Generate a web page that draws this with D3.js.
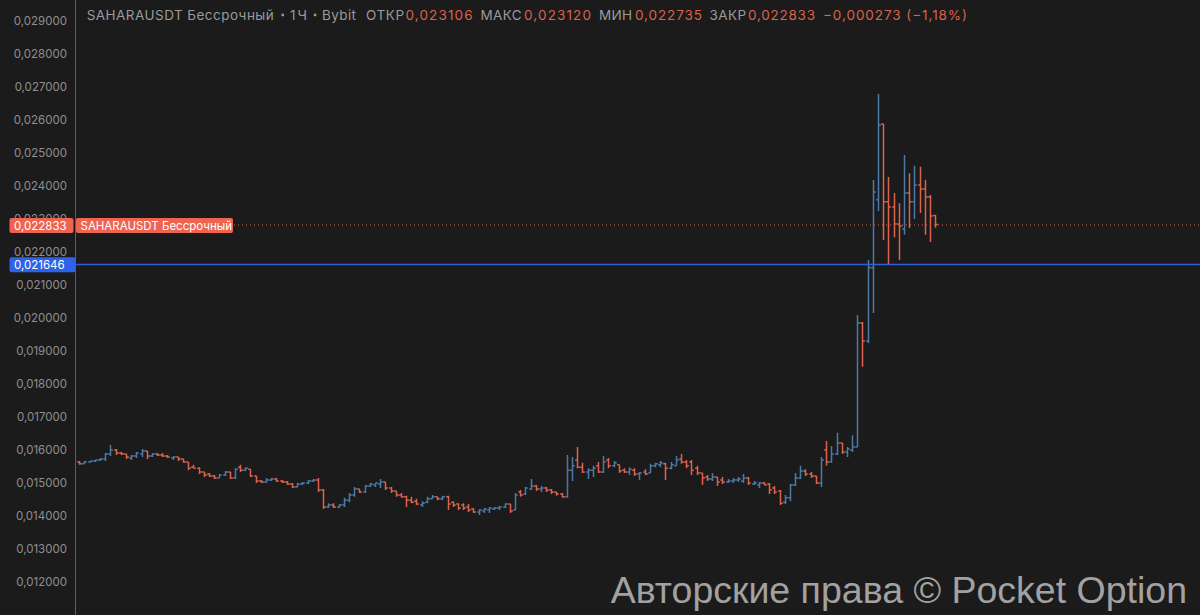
<!DOCTYPE html>
<html><head><meta charset="utf-8">
<script src="https://cdn.jsdelivr.net/npm/d3@7"></script>
<style>html,body{margin:0;padding:0;background:#1b1b1b;overflow:hidden}</style>
</head><body><svg id="c" width="1200" height="615"></svg>
<script>
// ---- data (hourly OHLC bars, SAHARAUSDT perpetual, Bybit) ----
const opens=[.01564,.01558,.01564,.01567,.01570,.01573,.01588,.01600,.01591,.01588,.01576,.01582,.01588,.01597,.01582,.01588,.01585,.01582,.01576,.01579,.01573,.01564,.01548,.01545,.01533,.01527,.01521,.01515,.01524,.01533,.01515,.01548,.01539,.01542,.01521,.01506,.01503,.01509,.01512,.01506,.01503,.01497,.01488,.01497,.01500,.01506,.01509,.01479,.01427,.01433,.01427,.01433,.01448,.01464,.01482,.01473,.01491,.01494,.01497,.01503,.01485,.01476,.01464,.01458,.01448,.01445,.01433,.01442,.01452,.01458,.01452,.01458,.01442,.01436,.01433,.01427,.01421,.01412,.01415,.01418,.01421,.01424,.01427,.01436,.01418,.01473,.01467,.01482,.01491,.01482,.01485,.01479,.01473,.01467,.01458,.01539,.01570,.01548,.01533,.01539,.01552,.01533,.01570,.01552,.01555,.01539,.01533,.01539,.01527,.01533,.01530,.01552,.01555,.01558,.01545,.01552,.01573,.01564,.01564,.01545,.01530,.01518,.01512,.01518,.01509,.01503,.01506,.01509,.01506,.01515,.01497,.01494,.01500,.01497,.01485,.01476,.01442,.01455,.01494,.01515,.01536,.01527,.01521,.01500,.01600,.01564,.01588,.01621,.01594,.01600,.01609,.01985,.01930,.02152,.02358,.02588,.02352,.02336,.02285,.02270,.02379,.02352,.02403,.02391,.02367,.023106];
const highs=[.01567,.01567,.01567,.01570,.01576,.01591,.01615,.01603,.01594,.01588,.01585,.01594,.01603,.01597,.01591,.01591,.01591,.01585,.01582,.01579,.01573,.01564,.01555,.01548,.01533,.01530,.01524,.01527,.01536,.01533,.01545,.01555,.01548,.01542,.01521,.01509,.01515,.01515,.01515,.01509,.01506,.01500,.01500,.01503,.01509,.01512,.01515,.01482,.01439,.01439,.01436,.01455,.01470,.01488,.01482,.01494,.01500,.01500,.01512,.01503,.01488,.01476,.01470,.01461,.01458,.01452,.01445,.01458,.01464,.01458,.01461,.01461,.01445,.01439,.01439,.01436,.01424,.01421,.01424,.01427,.01427,.01430,.01439,.01436,.01470,.01479,.01488,.01512,.01494,.01491,.01488,.01482,.01473,.01470,.01585,.01579,.01609,.01561,.01545,.01552,.01564,.01582,.01576,.01567,.01555,.01545,.01548,.01545,.01533,.01542,.01558,.01561,.01567,.01561,.01564,.01582,.01588,.01570,.01570,.01552,.01530,.01524,.01530,.01518,.01518,.01512,.01515,.01518,.01527,.01518,.01506,.01503,.01503,.01500,.01491,.01479,.01464,.01497,.01530,.01552,.01542,.01533,.01521,.01579,.01627,.01612,.01652,.01621,.01609,.01645,.02009,.01988,.02176,.02418,.02679,.02588,.02427,.02379,.02348,.02494,.02439,.02461,.02458,.02418,.02373,.023120];
const lows=[.01555,.01558,.01561,.01564,.01567,.01567,.01582,.01585,.01585,.01573,.01570,.01576,.01579,.01573,.01579,.01582,.01579,.01576,.01570,.01567,.01561,.01539,.01545,.01527,.01518,.01518,.01512,.01515,.01521,.01512,.01512,.01533,.01536,.01518,.01500,.01500,.01500,.01506,.01503,.01500,.01494,.01485,.01488,.01494,.01497,.01503,.01473,.01421,.01424,.01424,.01424,.01427,.01442,.01458,.01470,.01470,.01488,.01488,.01485,.01479,.01470,.01458,.01455,.01427,.01439,.01433,.01427,.01439,.01452,.01448,.01448,.01418,.01427,.01418,.01418,.01412,.01409,.01403,.01409,.01409,.01418,.01418,.01424,.01409,.01418,.01458,.01464,.01479,.01476,.01473,.01473,.01467,.01461,.01455,.01455,.01506,.01545,.01530,.01512,.01518,.01530,.01530,.01545,.01548,.01530,.01530,.01524,.01521,.01509,.01524,.01530,.01548,.01548,.01509,.01542,.01552,.01558,.01545,.01524,.01524,.01494,.01506,.01506,.01491,.01497,.01500,.01500,.01503,.01500,.01494,.01494,.01485,.01494,.01467,.01467,.01433,.01436,.01445,.01491,.01512,.01521,.01515,.01497,.01488,.01552,.01561,.01585,.01588,.01579,.01594,.01609,.01852,.01924,.02015,.02324,.02236,.02161,.02245,.02176,.02252,.02273,.02300,.02318,.02252,.02230,.022735];
const closes=[.01558,.01564,.01567,.01570,.01573,.01588,.01600,.01591,.01588,.01579,.01582,.01591,.01597,.01582,.01588,.01585,.01582,.01579,.01579,.01573,.01564,.01545,.01545,.01533,.01524,.01521,.01515,.01524,.01533,.01515,.01542,.01539,.01545,.01521,.01506,.01503,.01509,.01512,.01506,.01503,.01497,.01488,.01497,.01500,.01506,.01509,.01479,.01427,.01433,.01427,.01433,.01448,.01464,.01482,.01473,.01491,.01497,.01500,.01503,.01485,.01476,.01464,.01458,.01448,.01442,.01436,.01439,.01452,.01458,.01452,.01458,.01436,.01433,.01424,.01424,.01418,.01412,.01418,.01421,.01424,.01424,.01427,.01436,.01415,.01464,.01464,.01485,.01491,.01482,.01485,.01479,.01473,.01467,.01458,.01539,.01552,.01548,.01533,.01539,.01545,.01533,.01564,.01552,.01561,.01536,.01533,.01542,.01527,.01530,.01527,.01552,.01558,.01561,.01545,.01555,.01570,.01564,.01552,.01539,.01530,.01515,.01512,.01518,.01503,.01503,.01506,.01509,.01512,.01515,.01500,.01500,.01500,.01494,.01479,.01473,.01439,.01455,.01494,.01515,.01536,.01527,.01521,.01500,.01570,.01564,.01588,.01621,.01594,.01603,.01609,.01985,.01930,.02152,.02382,.02585,.02352,.02336,.02285,.02279,.02379,.02352,.02403,.02391,.02367,.02309,.022833];
const tickValues=[0.029,0.028,0.027,0.026,0.025,0.024,0.023,0.022,0.021,0.020,0.019,0.018,0.017,0.016,0.015,0.014,0.013,0.012];
const lastPrice=0.022833, markPrice=0.021646;
const titleParts=["SAHARAUSDT Бессрочный","1Ч","Bybit"];
const seriesName="SAHARAUSDT Бессрочный";
const ohlcLabels=["ОТКР","МАКС","МИН","ЗАКР"];
const ohlcValues=["0,023106","0,023120","0,022735","0,022833"];
const changeText="−0,000273 (−1,18%)";
const watermark="Авторские права © Pocket Option";

// ---- drawing ----
const W=1200,H=615;
const UP="#4b7aa8", DOWN="#dc624b", GRAY="#8f8f8f";
const svg=d3.select("#c");
svg.append("rect").attr("width",W).attr("height",H).attr("fill","#1b1b1b");
const y=d3.scaleLinear().domain([0.012,0.029]).range([582,21]);
const x=d3.scaleLinear().domain([0,opens.length-1]).range([79.3,935.1]);
const loc=d3.formatLocale({decimal:",",thousands:" ",grouping:[3],currency:["",""]});
const fmt=loc.format(".6f");
const hf="Inter, 'Noto Sans', sans-serif";

// axis labels
const ax=svg.append("g").attr("transform","translate(75,0)")
  .call(d3.axisLeft(y).tickValues(tickValues).tickSize(0).tickPadding(8).tickFormat(fmt));
ax.select(".domain").remove();
ax.selectAll("text").attr("fill",GRAY).attr("font-family",hf).attr("font-size",11.5);

// dotted last price line
svg.append("line").attr("x1",234).attr("x2",W).attr("y1",y(lastPrice)+0.5).attr("y2",y(lastPrice)+0.5)
  .attr("stroke",DOWN).attr("stroke-width",1).attr("stroke-dasharray","1,3");

// bars
const bars=svg.append("g").attr("fill","none");
opens.forEach((o,i)=>{
  const xi=Math.round(x(i))+0.5;
  const col=closes[i]>=o?UP:DOWN;
  bars.append("path")
    .attr("d",`M${xi},${y(highs[i])}V${y(lows[i])}M${xi-2.3},${y(o)}H${xi}M${xi},${y(closes[i])}H${xi+2.3}`)
    .attr("stroke",col).attr("stroke-width",1.5);
});

// mark price line
svg.append("line").attr("x1",75).attr("x2",W).attr("y1",y(markPrice)+0.8).attr("y2",y(markPrice)+0.8)
  .attr("stroke","#2f5fd6").attr("stroke-width",1.7);

// price labels
function label(v,col,x0,w,txt){
  const cy=y(v)+1;
  svg.append("rect").attr("x",x0).attr("y",cy-7.5).attr("width",w).attr("height",15).attr("rx",2).attr("fill",col);
  svg.append("text").attr("x",x0+4.5).attr("y",cy+4).attr("fill","#ffffff")
    .attr("font-family",hf).attr("font-size",11.5).text(txt);
}
label(lastPrice,"#ee6450",9.5,64,fmt(lastPrice));
label(lastPrice,"#ee6450",76,157,seriesName);
label(markPrice,"#2d63e8",9.5,66,fmt(markPrice));

// vertical separator
svg.append("line").attr("x1",75.5).attr("x2",75.5).attr("y1",0).attr("y2",H).attr("stroke","#5e5e5e").attr("stroke-width",1);

// header
const hy=19.5;
function htext(xp,txt,col,len){
  const t=svg.append("text").attr("x",xp).attr("y",hy).attr("fill",col).attr("font-family",hf).attr("font-size",13.5).text(txt);
  if(len) t.attr("textLength",len).attr("lengthAdjust","spacing");
  return t;
}
htext(86.7,titleParts[0],"#9a9a9a",187);
htext(290,titleParts[1],"#9a9a9a",17);
htext(322,titleParts[2],"#9a9a9a",34);
[282.7,315].forEach(d=>svg.append("rect").attr("x",d-1.2).attr("y",hy-5.8).attr("width",2.5).attr("height",2.5).attr("fill","#9a9a9a"));
const lx=[366,480.5,599,709.5], lw=[38,41,33,36.5], vx=[405.5,524,635,748];
ohlcLabels.forEach((t,i)=>{
  htext(lx[i],t,"#9a9a9a",lw[i]);
  htext(vx[i],ohlcValues[i],DOWN,67);
});
htext(823,changeText,DOWN,144);

// watermark
svg.append("text").attr("x",1187).attr("y",603).attr("text-anchor","end").attr("fill","#a2a2a2")
  .attr("font-family","'Liberation Sans', Arial, sans-serif").attr("font-size",37.5).text(watermark);
</script></body></html>
